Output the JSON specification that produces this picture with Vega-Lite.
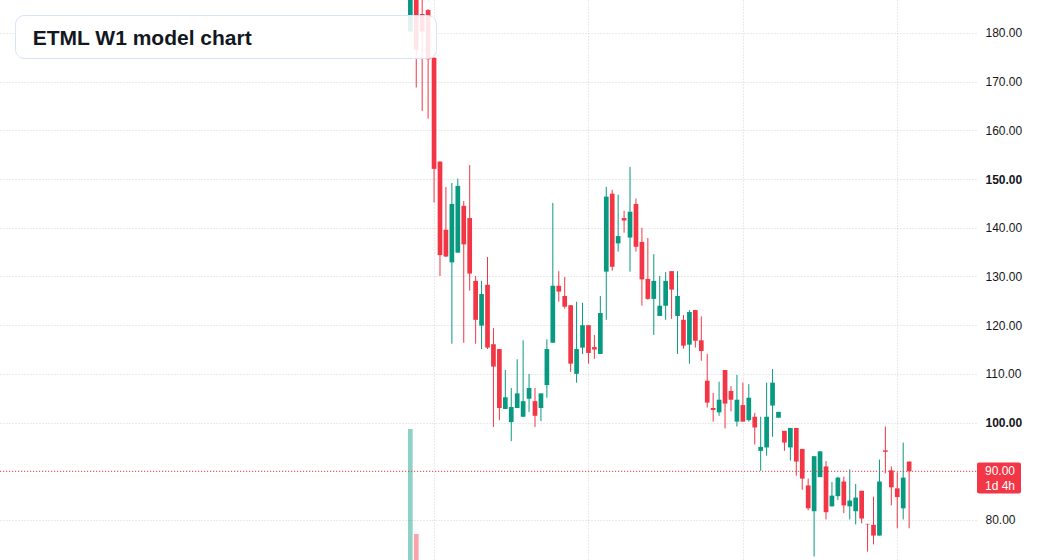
{
  "$schema": "https://vega.github.io/schema/vega-lite/v6.json",
  "width": 976,
  "height": 560,
  "autosize": "none",
  "padding": {"left": 0, "top": 0, "right": 61, "bottom": 0},
  "background": "#ffffff",
  "config": {"view": {"stroke": null}, "font": "Liberation Sans"},
  "datasets": {
    "ohlc": [
      {"week": 0, "open": 180.3, "high": 199.0, "low": 180.3, "close": 194.0, "volume": 2340000},
      {"week": 1, "open": 193.5, "high": 197.0, "low": 168.8, "close": 176.6, "volume": 464000},
      {"week": 2, "open": 183.9, "high": 190.5, "low": 164.0, "close": 180.3},
      {"week": 3, "open": 184.7, "high": 184.9, "low": 162.4, "close": 174.6},
      {"week": 4, "open": 174.9, "high": 175.0, "low": 145.2, "close": 152.1},
      {"week": 5, "open": 153.6, "high": 153.6, "low": 130.1, "close": 134.4},
      {"week": 6, "open": 139.6, "high": 148.4, "low": 134.0, "close": 134.1},
      {"week": 7, "open": 132.9, "high": 149.2, "low": 116.2, "close": 144.9},
      {"week": 8, "open": 134.9, "high": 150.1, "low": 134.9, "close": 148.6},
      {"week": 9, "open": 144.5, "high": 145.5, "low": 116.4, "close": 136.6},
      {"week": 10, "open": 142.0, "high": 152.9, "low": 127.1, "close": 130.6},
      {"week": 11, "open": 129.1, "high": 130.1, "low": 116.2, "close": 121.1},
      {"week": 12, "open": 119.9, "high": 129.1, "low": 115.1, "close": 126.4},
      {"week": 13, "open": 128.3, "high": 134.0, "low": 115.1, "close": 115.4},
      {"week": 14, "open": 116.1, "high": 119.4, "low": 99.1, "close": 111.5},
      {"week": 15, "open": 115.1, "high": 115.1, "low": 100.5, "close": 103.0},
      {"week": 16, "open": 102.8, "high": 110.8, "low": 102.8, "close": 105.2},
      {"week": 17, "open": 100.1, "high": 107.1, "low": 96.2, "close": 103.2},
      {"week": 18, "open": 103.0, "high": 113.0, "low": 103.0, "close": 106.0},
      {"week": 19, "open": 101.2, "high": 116.9, "low": 101.2, "close": 104.4},
      {"week": 20, "open": 104.9, "high": 110.0, "low": 102.2, "close": 107.1},
      {"week": 21, "open": 104.4, "high": 107.1, "low": 99.1, "close": 101.4},
      {"week": 22, "open": 103.0, "high": 106.0, "low": 100.3, "close": 106.0},
      {"week": 23, "open": 107.7, "high": 117.1, "low": 105.1, "close": 115.1},
      {"week": 24, "open": 116.4, "high": 145.1, "low": 116.4, "close": 128.1},
      {"week": 25, "open": 128.1, "high": 131.1, "low": 124.8, "close": 126.9},
      {"week": 26, "open": 126.0, "high": 129.9, "low": 123.4, "close": 123.8},
      {"week": 27, "open": 124.1, "high": 124.1, "low": 110.4, "close": 112.1},
      {"week": 28, "open": 110.0, "high": 124.8, "low": 108.2, "close": 115.1},
      {"week": 29, "open": 115.4, "high": 124.6, "low": 114.1, "close": 120.0},
      {"week": 30, "open": 120.0, "high": 120.0, "low": 112.1, "close": 114.3},
      {"week": 31, "open": 115.5, "high": 118.0, "low": 113.1, "close": 115.0},
      {"week": 32, "open": 114.1, "high": 126.0, "low": 114.1, "close": 122.5},
      {"week": 33, "open": 131.0, "high": 148.4, "low": 121.1, "close": 146.4},
      {"week": 34, "open": 147.0, "high": 147.8, "low": 131.2, "close": 132.0},
      {"week": 35, "open": 136.8, "high": 146.8, "low": 135.1, "close": 138.3},
      {"week": 36, "open": 142.0, "high": 143.5, "low": 139.0, "close": 141.5},
      {"week": 37, "open": 138.0, "high": 152.5, "low": 131.0, "close": 143.3},
      {"week": 38, "open": 144.9, "high": 146.0, "low": 135.1, "close": 136.1},
      {"week": 39, "open": 137.1, "high": 140.0, "low": 124.0, "close": 129.4},
      {"week": 40, "open": 129.5, "high": 137.9, "low": 125.2, "close": 125.4},
      {"week": 41, "open": 125.4, "high": 134.6, "low": 118.0, "close": 129.1},
      {"week": 42, "open": 121.9, "high": 130.1, "low": 121.9, "close": 124.0},
      {"week": 43, "open": 124.0, "high": 130.9, "low": 121.1, "close": 129.1},
      {"week": 44, "open": 131.1, "high": 131.1, "low": 121.3, "close": 127.3},
      {"week": 45, "open": 121.9, "high": 131.1, "low": 114.1, "close": 126.0},
      {"week": 46, "open": 121.1, "high": 122.1, "low": 115.2, "close": 115.8},
      {"week": 47, "open": 116.0, "high": 123.1, "low": 112.1, "close": 122.7},
      {"week": 48, "open": 123.1, "high": 123.1, "low": 115.4, "close": 116.8},
      {"week": 49, "open": 116.9, "high": 121.8, "low": 112.7, "close": 114.7},
      {"week": 50, "open": 108.6, "high": 114.1, "low": 103.1, "close": 104.1},
      {"week": 51, "open": 103.0, "high": 106.1, "low": 100.2, "close": 102.6},
      {"week": 52, "open": 102.1, "high": 108.4, "low": 101.4, "close": 104.7},
      {"week": 53, "open": 110.8, "high": 110.8, "low": 98.8, "close": 103.9},
      {"week": 54, "open": 106.5, "high": 107.5, "low": 102.3, "close": 104.7},
      {"week": 55, "open": 100.2, "high": 109.8, "low": 99.2, "close": 104.7},
      {"week": 56, "open": 103.6, "high": 108.2, "low": 100.2, "close": 100.2},
      {"week": 57, "open": 100.5, "high": 107.9, "low": 100.2, "close": 105.1},
      {"week": 58, "open": 101.2, "high": 102.0, "low": 95.5, "close": 99.0},
      {"week": 59, "open": 94.2, "high": 101.2, "low": 90.1, "close": 95.0},
      {"week": 60, "open": 94.9, "high": 108.2, "low": 93.2, "close": 101.2},
      {"week": 61, "open": 103.5, "high": 111.0, "low": 97.1, "close": 108.2},
      {"week": 62, "open": 101.0, "high": 102.2, "low": 101.0, "close": 102.2},
      {"week": 63, "open": 98.3, "high": 98.3, "low": 94.2, "close": 95.9},
      {"week": 64, "open": 94.9, "high": 98.9, "low": 92.2, "close": 98.9},
      {"week": 65, "open": 98.9, "high": 98.9, "low": 89.1, "close": 92.0},
      {"week": 66, "open": 94.6, "high": 94.6, "low": 86.2, "close": 88.5},
      {"week": 67, "open": 87.1, "high": 88.5, "low": 82.0, "close": 82.4},
      {"week": 68, "open": 81.8, "high": 93.1, "low": 72.5, "close": 93.1},
      {"week": 69, "open": 88.8, "high": 94.1, "low": 88.8, "close": 94.1},
      {"week": 70, "open": 91.0, "high": 92.1, "low": 80.1, "close": 81.6},
      {"week": 71, "open": 82.8, "high": 87.8, "low": 82.8, "close": 85.0},
      {"week": 72, "open": 84.9, "high": 88.9, "low": 84.1, "close": 88.7},
      {"week": 73, "open": 87.9, "high": 88.9, "low": 81.4, "close": 83.0},
      {"week": 74, "open": 82.8, "high": 90.4, "low": 80.1, "close": 84.0},
      {"week": 75, "open": 81.8, "high": 87.4, "low": 79.1, "close": 84.6},
      {"week": 76, "open": 86.0, "high": 86.0, "low": 79.3, "close": 80.3},
      {"week": 77, "open": 79.2, "high": 79.2, "low": 73.5, "close": 79.1},
      {"week": 78, "open": 79.0, "high": 84.8, "low": 75.0, "close": 76.8},
      {"week": 79, "open": 76.8, "high": 92.4, "low": 76.8, "close": 87.9},
      {"week": 80, "open": 94.3, "high": 99.2, "low": 89.6, "close": 94.0},
      {"week": 81, "open": 90.2, "high": 91.0, "low": 83.0, "close": 86.7},
      {"week": 82, "open": 86.5, "high": 89.8, "low": 78.3, "close": 84.7},
      {"week": 83, "open": 82.4, "high": 95.9, "low": 80.1, "close": 88.7},
      {"week": 84, "open": 92.0, "high": 92.0, "low": 78.3, "close": 90.0}
    ],
    "last": [{"price": 90.0, "timer": "1d 4h"}]
  },
  "layer": [
    {
      "data": {"name": "ohlc"},
      "mark": {"type": "bar", "width": 4.7, "opacity": 0.45},
      "encoding": {
        "x": {"field": "week", "type": "quantitative", "scale": {"domain": [-68.25, 94.4167], "nice": false, "zero": false}},
        "y": {"field": "volume", "type": "quantitative", "scale": {"domain": [0, 10000000], "nice": false}, "axis": null},
        "color": {"condition": {"test": "datum.close >= datum.open", "value": "#089981"}, "value": "#f23645"}
      }
    },
    {
      "data": {"name": "ohlc"},
      "mark": {"type": "rule", "strokeWidth": 1, "clip": true},
      "encoding": {
        "x": {
          "field": "week", "type": "quantitative",
          "scale": {"domain": [-68.25, 94.4167], "nice": false, "zero": false},
          "axis": {"values": [4, 30, 56, 82], "grid": true, "labels": false, "ticks": false, "domain": false, "title": null, "gridColor": "#d1d4dc", "gridDash": [1, 2], "gridWidth": 1}
        },
        "y": {
          "field": "low", "type": "quantitative",
          "scale": {"domain": [71.786, 186.776], "nice": false, "zero": false},
          "axis": {
            "orient": "right", "values": [80, 90, 100, 110, 120, 130, 140, 150, 160, 170, 180],
            "format": ".2f", "grid": true, "gridColor": "#d1d4dc", "gridDash": [1, 2], "gridWidth": 1,
            "ticks": false, "tickSize": 0, "domain": false, "title": null,
            "labelPadding": 9, "labelAlign": "left", "labelBaseline": "middle",
            "labelFont": "Liberation Sans", "labelFontSize": 12, "labelColor": "#131722",
            "labelFontWeight": {"condition": {"test": "datum.value == 150 || datum.value == 100", "value": "bold"}, "value": "normal"},
            "labelOverlap": false, "labelFlush": false, "labelBound": false
          }
        },
        "y2": {"field": "high"},
        "color": {"condition": {"test": "datum.close >= datum.open", "value": "#089981"}, "value": "#f23645"}
      }
    },
    {
      "data": {"name": "ohlc"},
      "mark": {"type": "bar", "width": 4.7, "clip": true},
      "encoding": {
        "x": {"field": "week", "type": "quantitative", "scale": {"domain": [-68.25, 94.4167], "nice": false, "zero": false}},
        "y": {"field": "open", "type": "quantitative", "scale": {"domain": [71.786, 186.776], "nice": false, "zero": false}, "axis": null},
        "y2": {"field": "close"},
        "color": {"condition": {"test": "datum.close >= datum.open", "value": "#089981"}, "value": "#f23645"}
      }
    },
    {
      "data": {"name": "last"},
      "mark": {"type": "rule", "color": "#f23645", "strokeDash": [1, 2], "strokeWidth": 1},
      "encoding": {
        "y": {"field": "price", "type": "quantitative", "scale": {"domain": [71.786, 186.776], "nice": false, "zero": false}, "axis": null}
      }
    },
    {
      "data": {"name": "last"},
      "mark": {"type": "tick", "orient": "horizontal", "size": 44, "thickness": 31, "color": "#f23645", "opacity": 1, "cornerRadius": 2, "xOffset": 23, "yOffset": 6.7},
      "encoding": {
        "x": {"value": "width"},
        "y": {"field": "price", "type": "quantitative", "scale": {"domain": [71.786, 186.776], "nice": false, "zero": false}, "axis": null}
      }
    },
    {
      "data": {"name": "last"},
      "mark": {"type": "text", "align": "left", "baseline": "middle", "font": "Liberation Sans", "fontSize": 12, "xOffset": 9, "color": "#ffffff"},
      "encoding": {
        "x": {"value": "width"},
        "y": {"field": "price", "type": "quantitative", "scale": {"domain": [71.786, 186.776], "nice": false, "zero": false}, "axis": null},
        "text": {"field": "price", "type": "quantitative", "format": ".2f"}
      }
    },
    {
      "data": {"name": "last"},
      "mark": {"type": "text", "align": "left", "baseline": "middle", "font": "Liberation Sans", "fontSize": 12, "xOffset": 9, "dy": 14.5},
      "encoding": {
        "x": {"value": "width"},
        "y": {"field": "price", "type": "quantitative", "scale": {"domain": [71.786, 186.776], "nice": false, "zero": false}, "axis": null},
        "text": {"field": "timer", "type": "nominal"},
        "color": {
          "field": "timer", "type": "nominal",
          "scale": {"range": ["#ffffff"]},
          "legend": {
            "title": "ETML W1 model chart",
            "orient": "top-left", "offset": 15, "padding": 9,
            "fillColor": "rgba(255,255,255,0.88)", "strokeColor": "#d6e4fa", "cornerRadius": 9,
            "titleFont": "Liberation Sans", "titleFontSize": 21, "titleFontWeight": "bold", "titleColor": "#131722",
            "titleOrient": "left", "titleAnchor": "end", "titleBaseline": "bottom", "titlePadding": 158, "titleLimit": 500,
            "symbolType": "square", "symbolOpacity": 0, "symbolSize": 625, "symbolStrokeWidth": 0,
            "labelExpr": "''", "labelOffset": 0,
            "zindex": 1,
            "encoding": {"title": {"dx": {"value": 8.7}}}
          }
        }
      }
    }
  ],
  "resolve": {"scale": {"y": "independent"}}
}
